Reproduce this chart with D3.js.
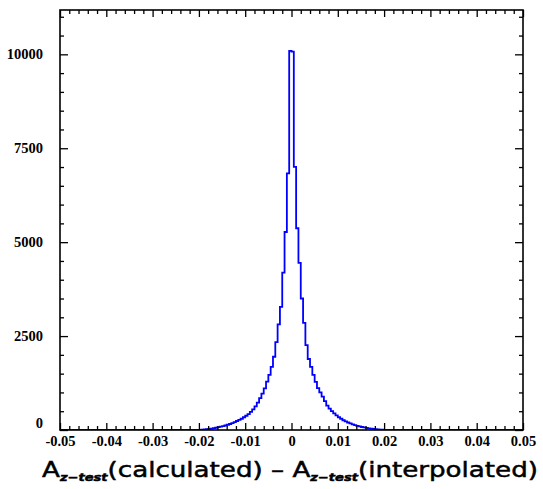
<!DOCTYPE html>
<html>
<head>
<meta charset="utf-8">
<script src="https://cdn.jsdelivr.net/npm/d3@7"></script>
<style>
    body { margin: 0; background: #fff; }
    svg { display: block; }
</style>
</head>
<body>
<svg id="chart" width="543" height="489"></svg>
<script>
// ===== Data =====
const binWidth = 0.0005;
const firstEdge = -0.021;
// bin counts from -0.021 to +0.021, 0.0005 wide
const leftCounts = [1, 2, 4, 8, 13, 20, 28, 38, 48, 60, 75, 90, 105, 120, 140, 160, 185, 210, 240, 270,
    300, 340, 380, 420, 480, 550, 630, 730, 850, 970, 1110, 1290, 1470, 1680, 1950, 2340, 2810, 3280,
    4190, 5270, 6830, 10090];
const rightCounts = [10070, 7005, 5370, 4450, 3500, 2850, 2260, 1890, 1680, 1470, 1280, 1115, 1000, 890,
    770, 650, 570, 500, 440, 390, 340, 300, 260, 230, 200, 175, 150, 130, 110, 95, 80, 68, 55, 44, 34,
    30, 22, 16, 11, 7, 4, 2];
const xMajorTicks = [-0.05, -0.04, -0.03, -0.02, -0.01, 0, 0.01, 0.02, 0.03, 0.04, 0.05];
const yMajorTicks = [0, 2500, 5000, 7500, 10000];
const xDomain = [-0.05, 0.05];
const yDomain = [0, 11180];

// ===== Layout =====
const margin = { top: 10, right: 20, bottom: 59, left: 60 };
const width = 543 - margin.left - margin.right;
const height = 489 - margin.top - margin.bottom;
const labelFont = '"Liberation Serif", "Times New Roman", serif';

const svg = d3.select('#chart')
    .append('g')
    .attr('transform', `translate(${margin.left},${margin.top})`);

const x = d3.scaleLinear().domain(xDomain).range([0, width]);
const y = d3.scaleLinear().domain(yDomain).range([height, 0]);

const xMinor = d3.range(-0.05, 0.0501, 0.002).filter(v => !xMajorTicks.some(t => Math.abs(t - v) < 1e-9));
const yMinor = d3.range(0, 11001, 500).filter(v => v % 2500 !== 0);

// ===== Histogram outline =====
const counts = leftCounts.concat(rightCounts);
const points = [[xDomain[0], 0]];
counts.forEach((c, i) => points.push([firstEdge + i * binWidth, c]));
points.push([firstEdge + counts.length * binWidth, 0]);
points.push([xDomain[1], 0]);

svg.append('clipPath').attr('id', 'clip')
    .append('rect').attr('width', width).attr('height', height);

svg.append('path')
    .datum(points)
    .attr('clip-path', 'url(#clip)')
    .attr('fill', 'none')
    .attr('stroke', '#0000ff')
    .attr('stroke-width', 1.8)
    .attr('d', d3.line().x(d => x(d[0])).y(d => y(d[1])).curve(d3.curveStepAfter));

// ===== Axes =====
function styleAxis(g) {
    g.select('.domain').remove();
    g.selectAll('.tick line').attr('stroke', '#000').attr('stroke-width', 1.3);
    g.attr('font-family', labelFont).attr('font-size', 14.5).attr('font-weight', 'bold');
    g.selectAll('text').attr('fill', '#000');
}

const fmtX = d => d === 0 ? '0' : d.toFixed(2);

// bottom
svg.append('g')
    .attr('transform', `translate(0,${height})`)
    .call(d3.axisBottom(x).tickValues(xMajorTicks).tickSize(-7).tickPadding(6).tickFormat(fmtX))
    .call(styleAxis);
svg.append('g')
    .attr('transform', `translate(0,${height})`)
    .call(d3.axisBottom(x).tickValues(xMinor).tickSize(-4).tickFormat(''))
    .call(styleAxis);

// top
svg.append('g')
    .call(d3.axisTop(x).tickValues(xMajorTicks).tickSize(-7).tickFormat(''))
    .call(styleAxis);
svg.append('g')
    .call(d3.axisTop(x).tickValues(xMinor).tickSize(-4).tickFormat(''))
    .call(styleAxis);

// left
const yAxis = svg.append('g')
    .call(d3.axisLeft(y).tickValues(yMajorTicks).tickSize(-8).tickPadding(17).tickFormat(d3.format('d')))
    .call(styleAxis);
yAxis.selectAll('.tick').filter(d => d === 0).select('text').attr('dy', '-0.15em');
svg.append('g')
    .call(d3.axisLeft(y).tickValues(yMinor).tickSize(-4).tickFormat(''))
    .call(styleAxis);

// right
svg.append('g')
    .attr('transform', `translate(${width},0)`)
    .call(d3.axisRight(y).tickValues(yMajorTicks).tickSize(-8).tickFormat(''))
    .call(styleAxis);
svg.append('g')
    .attr('transform', `translate(${width},0)`)
    .call(d3.axisRight(y).tickValues(yMinor).tickSize(-4).tickFormat(''))
    .call(styleAxis);

// frame
svg.append('rect')
    .attr('width', width)
    .attr('height', height)
    .attr('fill', 'none')
    .attr('stroke', '#000')
    .attr('stroke-width', 1.6);

// ===== Axis title =====
const title = svg.append('text')
    .attr('x', -18)
    .attr('y', height + 47)
    .attr('font-family', '"DejaVu Sans", sans-serif')
    .attr('font-size', 22)
    .attr('fill', '#000')
    .attr('stroke', '#000')
    .attr('stroke-width', 0.5);
title.append('tspan').text('A');
title.append('tspan').attr('dy', 4).attr('font-size', 11).attr('font-weight', 'bold').attr('font-style', 'italic').text('z\u2212test');
title.append('tspan').attr('dy', -4).text('(calculated) \u2013 A');
title.append('tspan').attr('dy', 4).attr('font-size', 11).attr('font-weight', 'bold').attr('font-style', 'italic').text('z\u2212test');
title.append('tspan').attr('dy', -4).text('(interpolated)');
title.attr('textLength', 496).attr('lengthAdjust', 'spacingAndGlyphs');
</script>
</body>
</html>
